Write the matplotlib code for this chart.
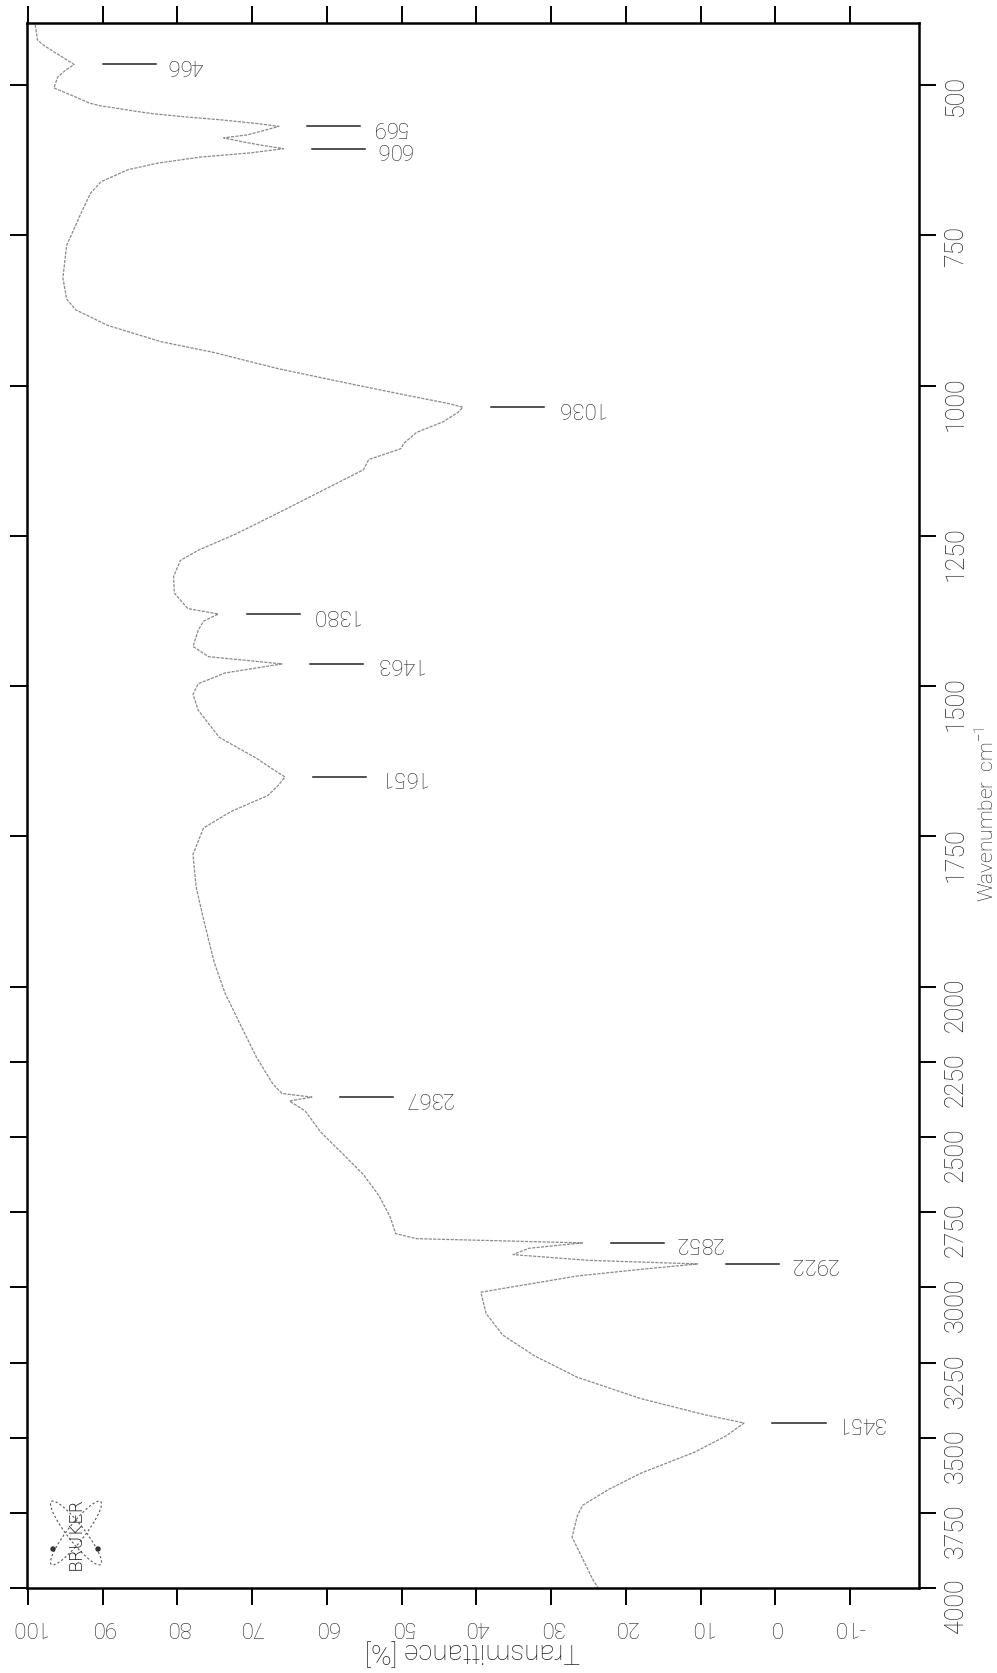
import numpy as np
import matplotlib
matplotlib.use("Agg")
import matplotlib.pyplot as plt
from matplotlib.patches import Ellipse, Circle
from matplotlib.ticker import NullLocator

plt.rcParams['font.family'] = ['Roboto', 'DejaVu Sans']
plt.rcParams['font.weight'] = 'light'
plt.rcParams['mathtext.default'] = 'regular'

# IR spectrum (wavenumber in cm-1, transmittance in %)
wavenumber = [400, 425, 433, 445, 455, 466, 475, 487, 505, 520, 530, 535, 538, 543, 548,
              553, 558, 564, 569, 576, 583, 588, 594, 600, 606, 613, 620, 630, 641, 661,
              680, 714, 767, 821, 856, 874, 900, 927, 945, 972, 998, 1016, 1030, 1036,
              1045, 1060, 1078, 1096, 1105, 1114, 1123, 1140, 1176, 1212, 1247, 1274,
              1291, 1318, 1345, 1371, 1380, 1392, 1407, 1434, 1451, 1463, 1478, 1496,
              1514, 1540, 1585, 1620, 1640, 1651, 1665, 1682, 1709, 1736, 1780, 1833,
              1887, 1958, 2022, 2129, 2235, 2324, 2355, 2367, 2380, 2413, 2484, 2555,
              2625, 2696, 2767, 2821, 2838, 2852, 2870, 2891, 2910, 2922, 2940, 2962,
              3016, 3087, 3158, 3228, 3299, 3370, 3424, 3451, 3494, 3548, 3618, 3672,
              3725, 3760, 3831, 3902, 3973, 4000]
transmittance = [99.0, 98.7, 98.0, 96.5, 95.2, 93.8, 94.9, 96.0, 96.5, 93.6, 91.8, 90.2,
                 88.5, 86.0, 83.2, 79.1, 74.2, 69.5, 66.4, 68.5, 70.6, 73.8, 71.5, 68.9,
                 65.8, 70.2, 76.9, 82.6, 86.6, 90.2, 91.6, 92.9, 94.8, 95.3, 94.8, 93.6,
                 89.3, 82.2, 75.1, 66.5, 56.5, 49.4, 43.7, 41.8, 42.5, 44.4, 48.0, 49.7,
                 50.1, 52.2, 54.4, 55.1, 60.8, 66.5, 72.2, 77.2, 79.6, 80.5, 80.4, 78.6,
                 74.5, 76.5, 77.2, 77.9, 75.8, 66.0, 73.6, 77.2, 77.9, 77.2, 74.4, 69.4,
                 67.0, 65.6, 66.5, 67.9, 72.9, 76.5, 77.9, 77.5, 76.5, 75.1, 73.6, 71.5,
                 69.4, 67.2, 66.0, 62.0, 65.0, 62.9, 60.8, 57.9, 55.1, 53.0, 51.5, 50.8,
                 48.0, 25.8, 33.0, 35.1, 25.0, 10.4, 18.0, 26.5, 39.4, 38.7, 36.5, 32.2,
                 26.5, 18.0, 9.4, 4.2, 6.6, 10.8, 18.0, 22.3, 25.8, 26.5, 27.2, 25.8,
                 24.4, 23.7]

peak_positions = [466, 569, 606, 1036, 1380, 1463, 1651, 2367, 2852, 2922, 3451]
peak_labels = ['466', '569', '606', '1036', '1380', '1463', '1651', '2367', '2852', '2922', '3451']

wn_ticks = [500, 750, 1000, 1250, 1500, 1750, 2000, 2250, 2500, 2750, 3000, 3250, 3500, 3750, 4000]
t_ticks = [100, 90, 80, 70, 60, 50, 40, 30, 20, 10, 0, -10]


# wavenumber axis is compressed by 2 above 2000 cm-1
def fwd(w):
    w = np.asarray(w, dtype=float)
    return np.where(w <= 2000, w, 2000 + (w - 2000) / 2)


def inv(v):
    v = np.asarray(v, dtype=float)
    return np.where(v <= 2000, v, 2000 + (v - 2000) * 2)


fig = plt.figure(figsize=(9.97, 16.73), dpi=100)
ax = fig.add_axes([27 / 997, 85 / 1673, 892 / 997, 1565 / 1673])
ax.set_yscale('function', functions=(fwd, inv))

ax.plot(transmittance, wavenumber, color='#8a8a8a', lw=0.9, ls=(0, (2.5, 1.0)))

ax.set_xlim(100.1, -19.2)
ax.set_ylim(4000, 397)

# peak picks
for wn_p, lab in zip(peak_positions, peak_labels):
    t = np.interp(wn_p, wavenumber, transmittance)
    ax.plot([t - 3.8, t - 10.9], [wn_p, wn_p], color='#222222', lw=1.1)
    ax.text(t - 12.3, wn_p, lab, rotation=180, ha='left', va='center',
            fontsize=16, color='#222222')

ax.set_xticks(t_ticks)
ax.set_xticklabels([str(t) for t in t_ticks])
ax.set_yticks(wn_ticks)
ax.set_yticklabels([str(w) for w in wn_ticks])
ax.yaxis.set_minor_locator(NullLocator())
ax.xaxis.set_minor_locator(NullLocator())

ax.tick_params(axis='x', direction='out', length=12, width=1.4, top=True, bottom=True,
               labelrotation=180, labelsize=16, pad=8, labelcolor='#222222')
ax.tick_params(axis='y', direction='out', length=12, width=1.4, left=True, right=True,
               labelleft=False, labelright=True, labelrotation=90, labelsize=18, pad=6,
               labelcolor='#222222')
for s in ax.spines.values():
    s.set_linewidth(1.8)

fig.text(473 / 997, 1 - 1650 / 1673, 'Transmittance [%]', rotation=180,
         ha='center', va='center', fontsize=20, color='#222222')
fig.text(987 / 997, 1 - 814 / 1673, 'Wavenumber  cm$^{-1}$', rotation=90,
         ha='center', va='center', fontsize=15, color='#222222')

# Bruker logo
logo_x, logo_y = 0.76, (1673 - 1533) / 100
for ang in (52, -52):
    fig.patches.append(Ellipse((logo_x, logo_y), 0.80, 0.17, angle=ang, fill=False,
                               ls=(0, (2, 2)), lw=0.8, ec='#555555',
                               transform=fig.dpi_scale_trans))
for dx in (-0.23, 0.22):
    fig.patches.append(Circle((logo_x + dx, logo_y - 0.16), 0.02, color='#333333',
                              transform=fig.dpi_scale_trans))
fig.text(logo_x * 100 / 997, logo_y * 100 / 1673, 'BRUKER', rotation=90, ha='center',
         va='center', fontsize=13, family='DejaVu Sans', color='#222222')

fig.savefig('out.png', dpi=100)
